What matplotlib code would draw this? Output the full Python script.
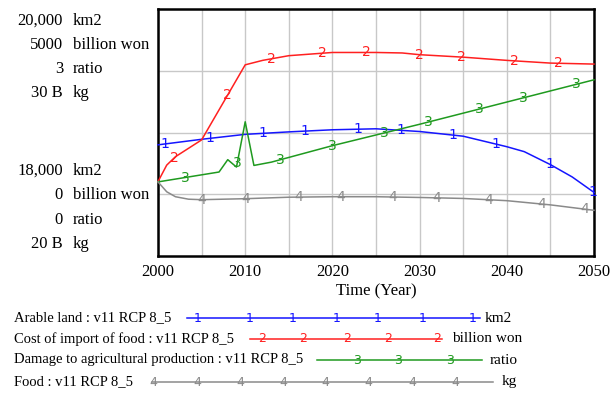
import matplotlib
matplotlib.use("Agg")
import matplotlib.pyplot as plt
from matplotlib.lines import Line2D
import numpy as np

# dados (Vensim, cenario v11 RCP 8_5)
arable_years = [2000, 2005, 2010, 2015, 2020, 2025, 2030, 2035, 2040, 2042, 2045, 2047.5, 2050]
arable = [18900, 18945, 18985, 19005, 19022, 19030, 19008, 18970, 18885, 18845, 18740, 18640, 18515]

cost_years = [2000, 2001, 2002, 2005, 2010, 2012, 2015, 2020, 2025, 2028, 2030, 2035, 2040, 2045, 2050]
cost = [1505, 1840, 2010, 2350, 3870, 3960, 4055, 4120, 4120, 4110, 4075, 4025, 3960, 3905, 3885]

damage_years = [2000, 2007, 2008, 2009, 2010, 2011, 2013, 2020, 2030, 2040, 2050]
damage = [0.90, 1.02, 1.17, 1.08, 1.63, 1.10, 1.14, 1.34, 1.60, 1.87, 2.14]

food_years = [2000, 2001, 2002, 2003.5, 2005, 2010, 2015, 2020, 2025, 2030, 2035, 2040, 2045, 2050]
food = [23.0e9, 22.6e9, 22.4e9, 22.3e9, 22.28e9, 22.32e9, 22.38e9, 22.4e9, 22.4e9,
        22.37e9, 22.33e9, 22.24e9, 22.07e9, 21.85e9]

series_names = ["Arable land : v11 RCP 8_5", "Cost of import of food : v11 RCP 8_5",
                "Damage to agricultural production : v11 RCP 8_5", "Food : v11 RCP 8_5"]
units = ["km2", "billion won", "ratio", "kg"]
max_labels = ["20,000", "5000", "3", "30 B"]
min_labels = ["18,000", "0", "0", "20 B"]
limits = [(18000, 20000), (0, 5000), (0, 3), (20e9, 30e9)]
year_ticks = [2000, 2010, 2020, 2030, 2040, 2050]

cores = ["#1515ff", "#ff2020", "#1f9a1f", "#8a8a8a"]
serif = "Liberation Serif"

W, H = 611, 395
def fx(x):
    return x / W
def fy(y):
    return 1 - y / H

fig = plt.figure(figsize=(W / 100, H / 100), dpi=100)
ax = fig.add_axes([fx(158), fy(256), 436 / W, 247 / H])
ax.set_xlim(2000, 2050)
ax.set_ylim(0, 1)
ax.set_xticks(year_ticks)
ax.set_xticks(np.arange(2000, 2051, 5), minor=True)
ax.set_yticks([0.25, 0.5, 0.75])
ax.set_yticklabels([])
ax.tick_params(axis="both", which="both", length=0)
ax.tick_params(axis="x", pad=6)
for lbl in ax.get_xticklabels():
    lbl.set_fontfamily(serif)
    lbl.set_fontsize(12)
ax.grid(True, which="both", color="#c8c8c8", linewidth=1)
for s in ax.spines.values():
    s.set_linewidth(1.8)
    s.set_color("black")
ax.set_xlabel("Time (Year)", fontfamily=serif, fontsize=12, labelpad=2)

# posicoes dos digitos sobre as curvas (anos)
marcas = [
    [2000.8, 2005.9, 2012.0, 2016.8, 2022.9, 2027.9, 2033.8, 2038.8, 2044.9, 2049.9],
    [2001.9, 2008.0, 2013.0, 2018.9, 2023.9, 2030.0, 2034.8, 2040.9, 2045.9],
    [2003.1, 2009.1, 2014.0, 2020.0, 2026.0, 2031.0, 2036.9, 2041.9, 2048.0],
    [2005.0, 2010.0, 2016.1, 2020.9, 2026.9, 2032.0, 2037.9, 2044.0, 2048.9],
]

dados = [(arable_years, arable), (cost_years, cost), (damage_years, damage), (food_years, food)]
for i, (xs, ys) in enumerate(dados):
    a = ax.twinx()
    a.set_ylim(*limits[i])
    a.set_xlim(2000, 2050)
    a.axis("off")
    a.plot(xs, ys, color=cores[i], linewidth=1.1, clip_on=False)
    for m in marcas[i]:
        a.text(m, np.interp(m, xs, ys), str(i + 1), color=cores[i], fontsize=10,
               fontfamily="DejaVu Sans", ha="center", va="center")

# rotulos de escala a esquerda
top_rows = [21, 45, 69, 93]
bot_rows = [171, 195, 220, 244]
for i in range(4):
    fig.text(fx(63), fy(top_rows[i]), max_labels[i], ha="right", va="center",
             fontfamily=serif, fontsize=12)
    fig.text(fx(73), fy(top_rows[i]), units[i], ha="left", va="center",
             fontfamily=serif, fontsize=12)
    fig.text(fx(63), fy(bot_rows[i]), min_labels[i], ha="right", va="center",
             fontfamily=serif, fontsize=12)
    fig.text(fx(73), fy(bot_rows[i]), units[i], ha="left", va="center",
             fontfamily=serif, fontsize=12)

# legenda no estilo Vensim
leg_rows = [318, 339, 360, 382]
leg_lines = [(187, 480), (250, 442), (317, 482), (152, 493)]
leg_units_x = [485, 452, 490, 502]
leg_marks = [
    [198, 250, 293, 337, 378, 423, 473],
    [262, 303, 347, 388, 437],
    [357, 398, 450],
    [153, 197, 240, 283, 325, 368, 412, 455],
]
for i in range(4):
    y = fy(leg_rows[i])
    fig.text(fx(14), y, series_names[i], ha="left", va="center",
             fontfamily=serif, fontsize=10.5)
    x0, x1 = leg_lines[i]
    fig.add_artist(Line2D([fx(x0), fx(x1)], [y, y], color=cores[i], linewidth=1.1))
    for m in leg_marks[i]:
        fig.text(fx(m), y, str(i + 1), color=cores[i], fontsize=9,
                 fontfamily="DejaVu Sans", ha="center", va="center")
    fig.text(fx(leg_units_x[i]), y, units[i], ha="left", va="center",
             fontfamily=serif, fontsize=11)

fig.savefig("out.png", dpi=100)
